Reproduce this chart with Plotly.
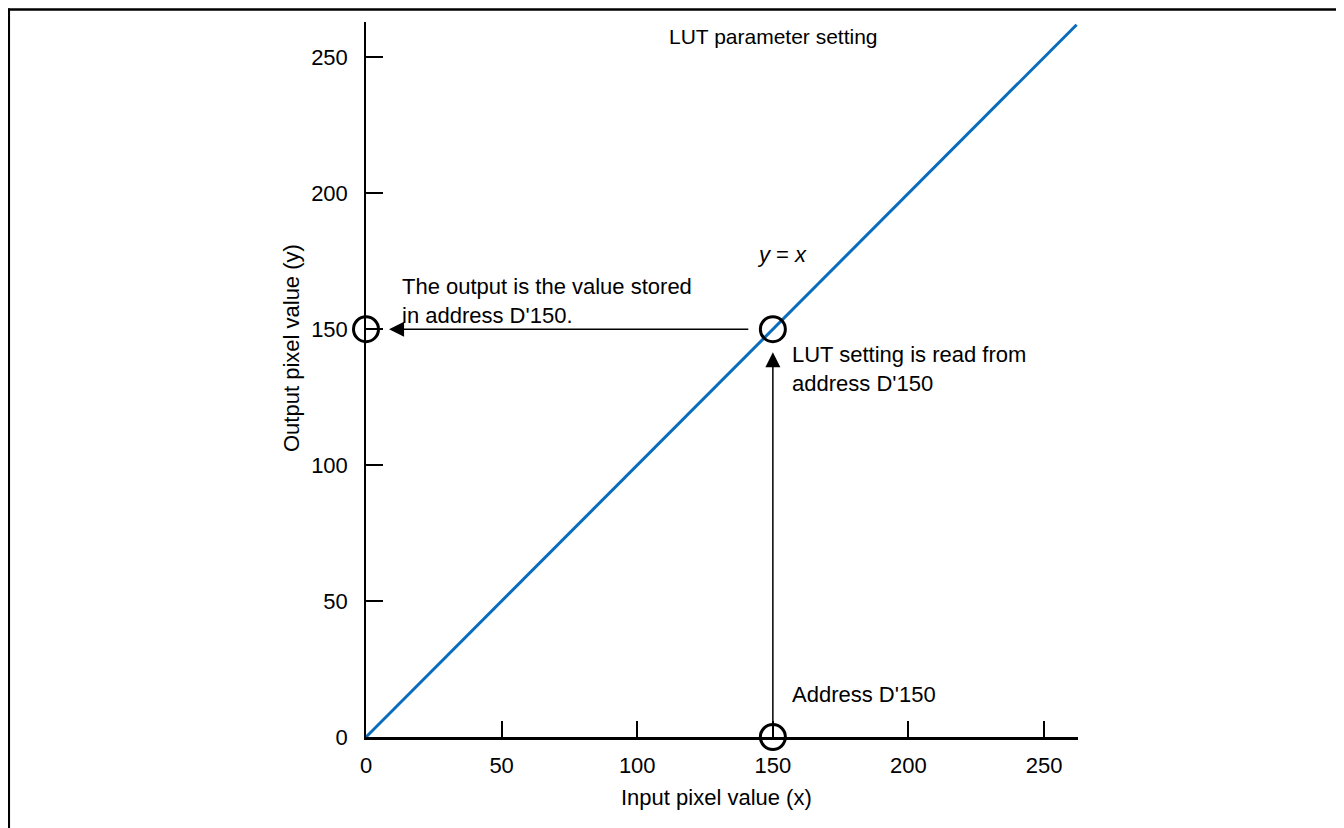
import plotly.graph_objects as go

# Data
line_x = [0, 262]
line_y = [0, 262]
circle_x = [0, 150, 150]
circle_y = [150, 150, 0]
tick_vals = [0, 50, 100, 150, 200, 250]
tick_text = ["0", "50", "100", "150", "200", "250"]
lut_address = 150

FONT = "Liberation Sans, Arial, sans-serif"
BLUE = "#0a6cbd"

# plot area (page px): x 366..1078, y 22..737 ; page has 8px body margin
def px_x(p):
    return (p - 366) / 712

def px_y(p):
    return (737 - p) / 715

fig = go.Figure()
fig.add_trace(go.Scatter(x=line_x, y=line_y, mode="lines",
                         line=dict(color=BLUE, width=3), hoverinfo="skip",
                         showlegend=False))
fig.add_trace(go.Scatter(x=circle_x, y=circle_y, mode="markers",
                         marker=dict(symbol="circle-open", size=25,
                                     color="black", line=dict(width=3, color="black")),
                         cliponaxis=False, showlegend=False, hoverinfo="skip"))

annotations = [
    dict(x=8.5, y=lut_address, ax=141.5, ay=lut_address, xref="x", yref="y",
         axref="x", ayref="y", text="", showarrow=True, arrowhead=2,
         arrowsize=2, arrowwidth=1.5, arrowcolor="black"),
    dict(x=lut_address, y=141.5, ax=lut_address, ay=5.2, xref="x", yref="y",
         axref="x", ayref="y", text="", showarrow=True, arrowhead=2,
         arrowsize=2, arrowwidth=1.5, arrowcolor="black"),
    dict(x=12.5, y=160.5, xref="x", yref="y", xanchor="left", yanchor="middle",
         align="left", showarrow=False,
         text="The output is the value stored<br>in address D'150."),
    dict(x=143.4, y=177.5, xref="x", yref="y", xanchor="left", yanchor="middle",
         showarrow=False, text="<i>y</i> = <i>x</i>"),
    dict(x=156.3, y=135.5, xref="x", yref="y", xanchor="left", yanchor="middle",
         align="left", showarrow=False,
         text="LUT setting is read from<br>address D'150"),
    dict(x=156.3, y=15.5, xref="x", yref="y", xanchor="left", yanchor="middle",
         showarrow=False, text="Address D'150"),
    dict(x=px_x(773), y=px_y(37), xref="paper", yref="paper",
         xanchor="center", yanchor="middle", showarrow=False,
         text="LUT parameter setting", font=dict(size=21)),
    dict(x=px_x(716), y=px_y(797), xref="paper", yref="paper",
         xanchor="center", yanchor="middle", showarrow=False,
         text="Input pixel value (x)"),
    dict(x=px_x(291), y=px_y(348), xref="paper", yref="paper",
         xanchor="center", yanchor="middle", showarrow=False, textangle=-90,
         text="Output pixel value (y)"),
]

shapes = [
    dict(type="line", xref="paper", yref="paper",
         x0=px_x(8.8), x1=px_x(8.8), y0=px_y(8.5), y1=px_y(840),
         line=dict(color="black", width=2.5)),
    dict(type="line", xref="paper", yref="paper",
         x0=px_x(7.5), x1=px_x(1350), y0=px_y(9.5), y1=px_y(9.5),
         line=dict(color="black", width=2.5)),
]

fig.update_layout(
    width=1336, height=820,
    margin=dict(l=358, r=266, t=14, b=91, autoexpand=False),
    paper_bgcolor="white", plot_bgcolor="white",
    font=dict(family=FONT, size=22, color="black"),
    showlegend=False,
    annotations=annotations,
    shapes=shapes,
    xaxis=dict(range=[0, 262.5], tickvals=tick_vals, ticktext=tick_text,
               ticks="inside", ticklen=16, tickwidth=1.5, tickcolor="black",
               showline=True, linecolor="black", linewidth=3,
               showgrid=False, zeroline=False, ticklabelstandoff=7,
               tickfont=dict(size=22)),
    yaxis=dict(range=[0, 263], tickvals=tick_vals, ticktext=tick_text,
               ticks="inside", ticklen=17, tickwidth=1.5, tickcolor="black",
               showline=True, linecolor="black", linewidth=1.5,
               showgrid=False, zeroline=False, ticklabelstandoff=12,
               tickfont=dict(size=22)),
)

fig.write_html("out.html")
